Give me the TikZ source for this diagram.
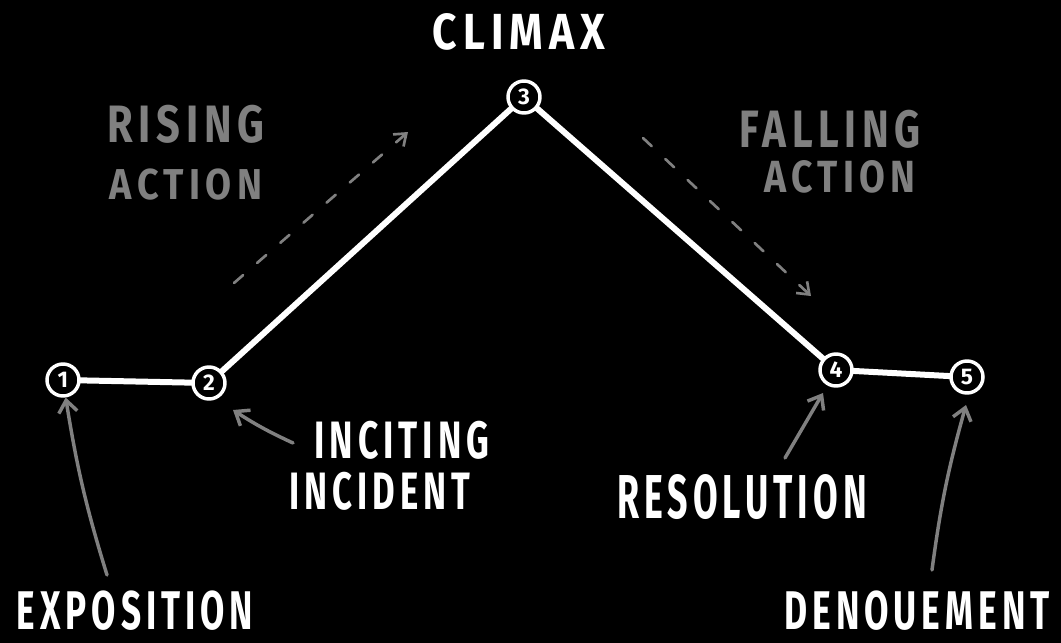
\documentclass[tikz,border=0pt]{standalone}
\usepackage{graphicx}
\usepackage{fontspec}
\setmainfont{Fira Sans}
\usetikzlibrary{arrows.meta}
\definecolor{hgray}{RGB}{128,128,128}
\newcommand{\hw}[3]{\resizebox{#1}{#2}{\bfseries\addfontfeature{LetterSpace=14}#3}}
\tikzset{
  pt/.style={circle,draw=white,line width=2.6pt,fill=black,minimum size=24pt,inner sep=0pt,text=white,font=\bfseries\fontsize{17}{17}\selectfont},
  arc/.style={white,line width=4.5pt,line cap=round},
  lbl/.style={text=white,inner sep=0pt},
  glbl/.style={text=hgray,inner sep=0pt},
  garr/.style={hgray,line width=2.6pt,line cap=round,-{Straight Barb[length=9pt,width=14pt,line width=2.6pt]}},
  darr/.style={hgray,line width=2pt,line cap=round,dash pattern=on 9pt off 14pt,-{Straight Barb[length=8pt,width=12pt,line width=2pt]}}
}
\begin{document}
\begin{tikzpicture}[x=0.75pt,y=-0.75pt]
\fill[black] (0,0) rectangle (1061,643);
\useasboundingbox (0,0) rectangle (1061,643);
% plot line
\coordinate (c1) at (63,380);
\coordinate (c2) at (209,383);
\coordinate (c3) at (524,97);
\coordinate (c4) at (836,370);
\coordinate (c5) at (967,377);
\draw[arc] (c1) -- (c2) -- (c3) -- (c4) -- (c5);
\node[pt] (p1) at (c1) {1};
\node[pt] (p2) at (c2) {2};
\node[pt] (p3) at (c3) {3};
\node[pt] (p4) at (c4) {4};
\node[pt] (p5) at (c5) {5};
% labels
\node[lbl] (climax) at (519,32) {\hw{129pt}{27pt}{CLIMAX}};
\node[glbl] (rising) at (186,124) {\hw{118pt}{28pt}{RISING}};
\node[glbl] (ract) at (186,185) {\hw{114pt}{23pt}{ACTION}};
\node[glbl] (falling) at (830,129) {\hw{136pt}{28pt}{FALLING}};
\node[glbl] (fact) at (840,177) {\hw{113pt}{24pt}{ACTION}};
\node[lbl] (inciting) at (402,440) {\hw{131pt}{28pt}{INCITING}};
\node[lbl] (incident) at (380,491) {\hw{135pt}{28pt}{INCIDENT}};
\node[lbl] (resolution) at (742,497) {\hw{187pt}{33pt}{RESOLUTION}};
\node[lbl] (exposition) at (135,611) {\hw{177pt}{29pt}{EXPOSITION}};
\node[lbl] (denouement) at (917,611) {\hw{199pt}{29pt}{DENOUEMENT}};
% pointer arrows
\coordinate (e0) at (107,575);
\draw[garr] (e0) to[bend left=4] (p1);
\coordinate (i0) at (293,443);
\draw[garr] (i0) to[bend left=4] ([shift={(24,27)}]p2.center);
\coordinate (r0) at (785,458);
\draw[garr] (r0) -- ([shift={(-13,23)}]p4.center);
\coordinate (d0) at (932,570);
\draw[garr] (d0) to[bend left=4] ([shift={(-1,28)}]p5.center);
% dashed direction arrows
\coordinate (ra0) at (234,283);
\coordinate (ra1) at (408,132);
\draw[darr] (ra0) -- (ra1);
\coordinate (fa0) at (643,138);
\coordinate (fa1) at (811,296);
\draw[darr] (fa0) -- (fa1);
\end{tikzpicture}
\end{document}
